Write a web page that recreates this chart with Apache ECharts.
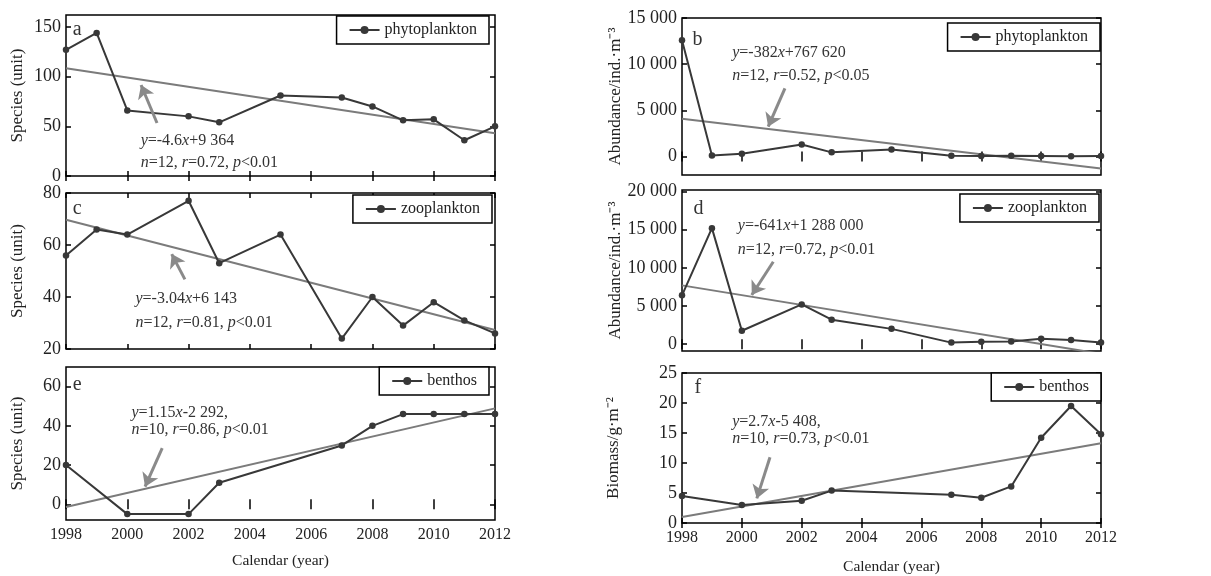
<!DOCTYPE html>
<html>
<head>
<meta charset="utf-8">
<script src="https://cdn.jsdelivr.net/npm/echarts@6/dist/echarts.min.js"></script>
<style>
html,body{margin:0;padding:0;background:#fff;}
#chart{width:1211px;height:576px;}
</style>
</head>
<body>
<div id="chart"></div>
<script>
// ---------- data ----------
const yearsPlankton = [1998,1999,2000,2002,2003,2005,2007,2008,2009,2010,2011,2012];
const yearsBenthos  = [1998,2000,2002,2003,2007,2008,2009,2010,2011,2012];

const phytoSpecies   = [127,144,66,60,54,81,79,70,56,57,36,50];
const zooSpecies     = [56,66,64,77,53,64,24,40,29,38,31,26];
const benthosSpecies = [20,-5,-5,11,30,40,46,46,46,46];

const phytoAbundance = [12600,100,300,1300,450,750,80,50,80,50,30,50];
const zooAbundance   = [6400,15200,1750,5200,3200,2000,200,300,350,700,550,200];
const benthosBiomass = [4.5,3.0,3.7,5.4,4.7,4.2,6.1,14.2,19.5,14.8];

// regression line end values (at 1998 and 2012)
const trendYears = [1998,2012];
const trendA = [108.5,43];
const trendB = [4100,-1300];
const trendC = [69.7,27.3];
const trendD = [7700,-1270];
const trendE = [-1.4,48.9];
const trendF = [1.0,13.3];

// tick labels
const xTicks  = [1998,2000,2002,2004,2006,2008,2010,2012];
const ticksA = [0,50,100,150];
const ticksB = [0,5000,10000,15000];
const ticksC = [20,40,60,80];
const ticksD = [0,5000,10000,15000,20000];
const ticksE = [0,20,40,60];
const ticksF = [0,5,10,15,20,25];

const panelLetters = ['a','b','c','d','e','f'];
const legendNames  = ['phytoplankton','phytoplankton','zooplankton','zooplankton','benthos','benthos'];
const eqLine1 = [
  '{i|y}=-4.6{i|x}+9 364',
  '{i|y}=-382{i|x}+767 620',
  '{i|y}=-3.04{i|x}+6 143',
  '{i|y}=-641{i|x}+1 288 000',
  '{i|y}=1.15{i|x}-2 292,',
  '{i|y}=2.7{i|x}-5 408,'
];
const eqLine2 = [
  '{i|n}=12, {i|r}=0.72, {i|p}<0.01',
  '{i|n}=12, {i|r}=0.52, {i|p}<0.05',
  '{i|n}=12, {i|r}=0.81, {i|p}<0.01',
  '{i|n}=12, {i|r}=0.72, {i|p}<0.01',
  '{i|n}=10, {i|r}=0.86, {i|p}<0.01',
  '{i|n}=10, {i|r}=0.73, {i|p}<0.01'
];
const yNames = ['Species (unit)','Abundance/ind.·m⁻³','Species (unit)','Abundance/ind.·m⁻³','Species (unit)','Biomass/g·m⁻²'];
const xName = 'Calendar (year)';

// annotation anchor points in data units: [letter, text line1, text line2, arrow tail, arrow tip]
const annA = [[1998.2,146.9],[2000.42,35.5],[2000.42,13.1],[2000.97,53.3],[2000.45,91.6]];
const annB = [[1998.33,12620],[1999.66,11180],[1999.66,8720],[2001.44,7390],[2000.88,3230]];
const annC = [[1998.2,73.8],[2000.25,39.5],[2000.25,30.1],[2001.88,46.8],[2001.45,56.5]];
const annD = [[1998.37,17800],[1999.85,15480],[1999.85,12340],[2001.05,10800],[2000.33,6440]];
const annE = [[1998.2,60.8],[2000.12,46.7],[2000.12,37.9],[2001.14,28.6],[2000.58,9.0]];
const annF = [[1998.4,22.5],[1999.66,16.9],[1999.66,14.1],[2000.94,10.95],[2000.5,4.1]];

// ---------- layout ----------
const FONT = 'Liberation Serif';
const TXT = '#222';
const panels = [
  {grid:{left:66, top:15, width:429, height:161}, years:yearsPlankton, vals:phytoSpecies,   trend:trendA, ticks:ticksA, min:0,     max:162,   ann:annA, nameGap:40, legend:{right:722, top:16}, showX:false},
  {grid:{left:682,top:18, width:419, height:157}, years:yearsPlankton, vals:phytoAbundance, trend:trendB, ticks:ticksB, min:-2000, max:15000, ann:annB, nameGap:57, legend:{right:111, top:23}, showX:false},
  {grid:{left:66, top:193,width:429, height:156}, years:yearsPlankton, vals:zooSpecies,     trend:trendC, ticks:ticksC, min:20,    max:80,    ann:annC, nameGap:40, legend:{right:719, top:195}, showX:false},
  {grid:{left:682,top:190,width:419, height:161}, years:yearsPlankton, vals:zooAbundance,   trend:trendD, ticks:ticksD, min:-900,  max:20200, ann:annD, nameGap:57, legend:{right:112, top:194}, showX:false},
  {grid:{left:66, top:367,width:429, height:153}, years:yearsBenthos,  vals:benthosSpecies, trend:trendE, ticks:ticksE, min:-8,    max:70,    ann:annE, nameGap:40, legend:{right:722, top:367}, showX:true, xGap:33},
  {grid:{left:682,top:373,width:419, height:150}, years:yearsBenthos,  vals:benthosBiomass, trend:trendF, ticks:ticksF, min:0,     max:25,    ann:annF, nameGap:60, legend:{right:110, top:373}, showX:true, xGap:36}
];

function fmt(v){
  const s = String(v);
  return Math.abs(v) >= 1000 ? s.replace(/\B(?=(\d{3})+(?!\d))/g, ' ') : s;
}

const tickStyle = {inside:true, length:5, lineStyle:{color:'#000', width:1.5}};
const grid = [], xAxis = [], yAxis = [], series = [], legend = [];
const rich = {i:{fontStyle:'italic', fontFamily:FONT, fontSize:16, color:'#333'}};

panels.forEach((p, i) => {
  grid.push(Object.assign({show:true, borderColor:'#000', borderWidth:1.5, backgroundColor:'transparent'}, p.grid));
  xAxis.push({
    gridIndex:i, type:'value', min:1998, max:2012, interval:2, position:'bottom',
    axisLine:{show:false}, splitLine:{show:false}, axisTick:tickStyle,
    axisLabel:{show:p.showX, fontSize:16, color:TXT, fontFamily:FONT, margin:7, formatter:v=>String(v)},
    name:p.showX ? xName : '', nameLocation:'middle', nameGap:p.xGap || 30,
    nameTextStyle:{fontSize:15.5, color:TXT, fontFamily:FONT}
  });
  xAxis.push({
    gridIndex:i, type:'value', min:1998, max:2012, interval:2, position:'top',
    axisLine:{show:false}, splitLine:{show:false}, axisTick:tickStyle, axisLabel:{show:false}
  });
  yAxis.push({
    gridIndex:i, type:'value', min:p.min, max:p.max, position:'left',
    axisLine:{show:false}, splitLine:{show:false},
    axisTick:Object.assign({customValues:p.ticks}, tickStyle),
    axisLabel:{customValues:p.ticks, formatter:fmt, fontSize:18, color:TXT, fontFamily:FONT, margin:5},
    name:yNames[i], nameLocation:'middle', nameGap:p.nameGap, nameRotate:90,
    nameTextStyle:{fontSize:17, color:TXT, fontFamily:FONT}
  });
  yAxis.push({
    gridIndex:i, type:'value', min:p.min, max:p.max, position:'right',
    axisLine:{show:false}, splitLine:{show:false},
    axisTick:Object.assign({customValues:p.ticks}, tickStyle),
    axisLabel:{show:false, customValues:p.ticks}
  });

  const a = p.ann;
  const textItem = (coord, txt, size) => ({
    coord: coord, symbol:'circle', symbolSize:1, itemStyle:{color:'rgba(0,0,0,0)'},
    label:{show:true, position:'right', distance:0, formatter:txt, fontSize:size, color:'#333', fontFamily:FONT, rich:rich}
  });

  series.push({
    type:'line', name:'trend-' + panelLetters[i], xAxisIndex:2*i, yAxisIndex:2*i,
    data: trendYears.map((y,k)=>[y, p.trend[k]]), symbol:'none', silent:true,
    lineStyle:{color:'#7b7b7b', width:2}, z:2,
    markLine:{
      silent:true, symbol:['none','arrow'], symbolSize:13, animation:false,
      lineStyle:{color:'#8a8a8a', width:3, type:'solid'}, label:{show:false},
      data:[[{coord:a[3]},{coord:a[4]}]]
    },
    markPoint:{
      silent:true, animation:false,
      data:[
        textItem(a[0], panelLetters[i], 20),
        textItem(a[1], eqLine1[i], 16),
        textItem(a[2], eqLine2[i], 16)
      ]
    }
  });
  series.push({
    type:'line', name:legendNames[i], xAxisIndex:2*i, yAxisIndex:2*i,
    data: p.years.map((y,k)=>[y, p.vals[k]]),
    symbol:'circle', symbolSize:6.5,
    lineStyle:{color:'#383838', width:2}, itemStyle:{color:'#383838'}, z:3
  });
  legend.push({
    data:[legendNames[i]], right:p.legend.right, top:p.legend.top, selectedMode:false,
    itemWidth:30, itemHeight:10, borderColor:'#000', borderWidth:1.5, borderRadius:0,
    padding:[6,12,6,12], backgroundColor:'#fff',
    textStyle:{fontSize:16, color:TXT, fontFamily:FONT}
  });
});

const chart = echarts.init(document.getElementById('chart'), null, {renderer:'canvas'});
chart.setOption({
  animation:false,
  backgroundColor:'#fff',
  textStyle:{fontFamily:FONT},
  grid, xAxis, yAxis, series, legend
});
</script>
</body>
</html>
